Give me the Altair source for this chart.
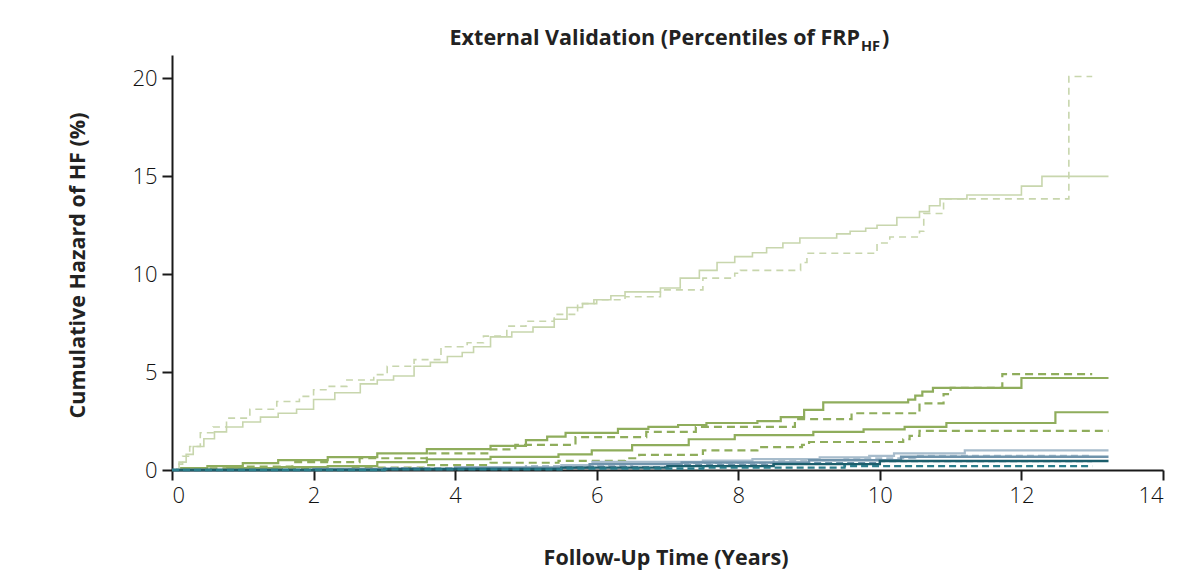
import altair as alt
import pandas as pd

# ---------------- data ----------------
# light green (highest percentile group)
lg_obs_t = [0, 0.1, 0.2, 0.3, 0.45, 0.6, 0.77, 1.0, 1.25, 1.5, 1.76, 2.0, 2.3, 2.66, 2.9, 3.13, 3.42, 3.65,
            3.89, 4.1, 4.26, 4.5, 4.8, 5.1, 5.4, 5.58, 5.8, 5.96, 6.2, 6.4, 6.9, 7.18, 7.45, 7.7, 7.95, 8.2,
            8.4, 8.63, 8.87, 9.39, 9.58, 9.8, 9.96, 10.24, 10.56, 10.7, 10.85, 11.23, 12.0, 12.29, 13.23]
lg_obs_v = [0, 0.4, 0.8, 1.2, 1.6, 1.95, 2.2, 2.45, 2.7, 2.9, 3.1, 3.6, 3.95, 4.4, 4.6, 4.8, 5.3, 5.5,
            5.8, 6.0, 6.3, 6.8, 7.05, 7.3, 7.7, 8.3, 8.5, 8.7, 8.9, 9.1, 9.3, 9.8, 10.2, 10.6, 10.9, 11.1,
            11.35, 11.6, 11.85, 12.06, 12.2, 12.35, 12.5, 12.9, 13.2, 13.5, 13.85, 14.05, 14.5, 15.0, 15.0]
lg_pred_t = [0, 0.07, 0.15, 0.25, 0.4, 0.58, 0.77, 1.1, 1.48, 1.8, 2.0, 2.19, 2.47, 2.85, 3.04, 3.42, 3.8,
             4.17, 4.4, 4.73, 5.0, 5.4, 5.73, 6.0, 6.4, 6.9, 7.5, 7.95, 8.03, 8.88, 8.97, 9.96, 10.14, 10.56,
             10.62, 10.9, 12.67, 13.0]
lg_pred_v = [0, 0.3, 0.7, 1.2, 1.9, 2.2, 2.65, 3.1, 3.5, 3.76, 4.1, 4.27, 4.6, 4.87, 5.3, 5.64, 6.3,
             6.5, 6.84, 7.35, 7.6, 7.95, 8.5, 8.7, 8.85, 9.2, 9.8, 10.05, 10.2, 10.6, 11.07, 11.6, 11.9, 12.2,
             13.1, 13.85, 20.1, 20.1]

# medium green, upper group
mg1_obs_t = [0, 0.13, 0.5, 1.0, 1.5, 2.2, 2.9, 3.6, 4.5, 5.0, 5.3, 5.56, 6.3, 6.73, 7.15, 7.55, 8.27, 8.6,
             8.93, 9.2, 10.4, 10.5, 10.6, 10.75, 12.0, 13.23]
mg1_obs_v = [0, 0.1, 0.2, 0.35, 0.5, 0.66, 0.85, 1.07, 1.23, 1.53, 1.7, 1.9, 2.1, 2.2, 2.3, 2.4, 2.5, 2.7,
             3.07, 3.45, 3.6, 3.8, 4.0, 4.2, 4.7, 4.7]
mg1_pred_t = [0, 0.5, 1.0, 1.7, 2.65, 3.6, 4.5, 4.85, 5.7, 6.7, 7.4, 8.8, 9.6, 10.56, 10.9, 11.0, 11.73, 13.0]
mg1_pred_v = [0, 0.08, 0.17, 0.4, 0.6, 0.85, 1.05, 1.28, 1.68, 1.95, 2.2, 2.6, 2.9, 3.4, 3.88, 4.2, 4.9, 4.9]

# medium green, lower group
mg2_obs_t = [0, 0.78, 1.5, 2.2, 2.9, 3.6, 4.5, 5.46, 5.93, 6.5, 7.3, 7.95, 9.06, 9.77, 10.35, 10.94, 12.48, 13.23]
mg2_obs_v = [0, 0.1, 0.15, 0.2, 0.4, 0.55, 0.67, 0.8, 1.0, 1.27, 1.57, 1.78, 1.95, 2.08, 2.2, 2.4, 2.95, 2.95]
mg2_pred_t = [0, 1.5, 2.5, 3.6, 4.5, 5.46, 6.4, 6.6, 7.5, 8.27, 8.9, 9.0, 10.33, 10.42, 10.56, 13.23]
mg2_pred_v = [0, 0.05, 0.12, 0.25, 0.37, 0.47, 0.6, 0.77, 1.0, 1.17, 1.28, 1.43, 1.57, 1.74, 2.0, 2.0]

# light blue group
lb_obs_t = [0, 2.0, 4.0, 5.5, 5.94, 7.5, 8.2, 9.15, 9.85, 10.2, 11.2, 13.23]
lb_obs_v = [0, 0.05, 0.12, 0.25, 0.42, 0.48, 0.56, 0.65, 0.72, 0.85, 1.0, 1.0]
lb_pred_t = [0, 3.0, 5.0, 6.5, 8.5, 9.5, 10.5, 13.0]
lb_pred_v = [0, 0.1, 0.2, 0.35, 0.5, 0.6, 0.72, 0.72]

# steel blue group
sb_obs_t = [0, 2.0, 4.0, 5.9, 7.2, 9.0, 10.3, 13.23]
sb_obs_v = [0, 0.05, 0.12, 0.3, 0.38, 0.5, 0.68, 0.68]
sb_pred_t = [0, 3.0, 5.5, 7.0, 8.5, 10.0, 13.0]
sb_pred_v = [0, 0.06, 0.15, 0.25, 0.35, 0.45, 0.45]

# dark teal group
dt_obs_t = [0, 3.0, 5.5, 7.0, 8.5, 10.0, 13.23]
dt_obs_v = [0, 0.05, 0.12, 0.2, 0.3, 0.46, 0.46]
dt_pred_t = [0, 3.0, 5.5, 7.5, 9.5, 13.0]
dt_pred_v = [0, 0.03, 0.08, 0.12, 0.2, 0.2]

title_main = ["External Validation (Percentiles of FRP"]
title_sub = ["HF"]
title_end = [")"]
x_title = "Follow-Up Time (Years)"
y_title = "Cumulative Hazard of HF (%)"
x_ticks = [0, 2, 4, 6, 8, 10, 12, 14]
y_ticks = [0, 5, 10, 15, 20]

# ---------------- chart ----------------
FONT = "Open Sans"
W, H = 991, 415

xs = alt.Scale(domain=[0, 14], nice=False)
ys = alt.Scale(domain=[0, 21.2], nice=False)

x_axis = alt.Axis(values=x_ticks, title=x_title, grid=False, titleFont=FONT, titleFontSize=21.5,
                  titleFontWeight="bold", titleColor="#222", titleY=88, titleBaseline="middle",
                  titleX=W * 0.498)
y_axis = alt.Axis(values=y_ticks, title=y_title, grid=False, titleFont=FONT, titleFontSize=21.5,
                  titleFontWeight="bold", titleColor="#222", titleX=-94, titleY=210,
                  titleBaseline="middle", titleAngle=-90, titleAlign="center")


def step_layer(ts, vs, color, width, dash=None):
    df = pd.DataFrame({"t": ts, "v": vs})
    kw = dict(interpolate="step-after", color=color, strokeWidth=width)
    if dash:
        kw["strokeDash"] = dash
    return alt.Chart(df).mark_line(**kw).encode(
        x=alt.X("t:Q", scale=xs, axis=x_axis),
        y=alt.Y("v:Q", scale=ys, axis=y_axis),
    )


LG = "#c8d6ad"
MG = "#8fad5c"
LB = "#a7bccc"
SB = "#6f93ab"
DT = "#1c5e6c"
DT2 = "#2a7d8c"

layers = [
    step_layer(lg_pred_t, lg_pred_v, LG, 1.6, [7, 5]),
    step_layer(lg_obs_t, lg_obs_v, LG, 1.6),
    step_layer(mg1_pred_t, mg1_pred_v, MG, 2.2, [8, 5]),
    step_layer(mg1_obs_t, mg1_obs_v, MG, 2.2),
    step_layer(mg2_pred_t, mg2_pred_v, MG, 2.2, [8, 5]),
    step_layer(mg2_obs_t, mg2_obs_v, MG, 2.2),
    step_layer(lb_obs_t, lb_obs_v, LB, 2.2),
    step_layer(lb_pred_t, lb_pred_v, LB, 2.2, [7, 4]),
    step_layer(sb_obs_t, sb_obs_v, SB, 2.4),
    step_layer(sb_pred_t, sb_pred_v, SB, 2.2, [7, 4]),
    step_layer(dt_obs_t, dt_obs_v, DT, 2.4),
    step_layer(dt_pred_t, dt_pred_v, DT2, 2.4, [7, 4]),
]

t1 = alt.Chart(pd.DataFrame({"s": title_main})).mark_text(
    font=FONT, fontSize=21.5, fontWeight="bold", color="#222", align="right", baseline="alphabetic"
).encode(text="s:N", x=alt.value(688), y=alt.value(-10))
t2 = alt.Chart(pd.DataFrame({"s": title_sub})).mark_text(
    font=FONT, fontSize=14.5, fontWeight="bold", color="#222", align="left", baseline="alphabetic"
).encode(text="s:N", x=alt.value(689), y=alt.value(-4))
t3 = alt.Chart(pd.DataFrame({"s": title_end})).mark_text(
    font=FONT, fontSize=21.5, fontWeight="bold", color="#222", align="left", baseline="alphabetic"
).encode(text="s:N", x=alt.value(710), y=alt.value(-10))

chart = alt.layer(*layers, t1, t2, t3).properties(
    width=W, height=H,
    autosize=alt.AutoSizeParams(type="none"),
    padding={"left": 164, "top": 47, "right": 29, "bottom": 100},
).configure_view(stroke=None).configure_axis(
    domainColor="#1a1a1a", domainWidth=2, tickColor="#1a1a1a", tickWidth=2, tickSize=10,
    labelFont=FONT, labelFontSize=22, labelFontWeight=300, labelColor="#111", labelPadding=5,
)

chart.save("out.html", embed_options={"renderer": "svg", "actions": False})
